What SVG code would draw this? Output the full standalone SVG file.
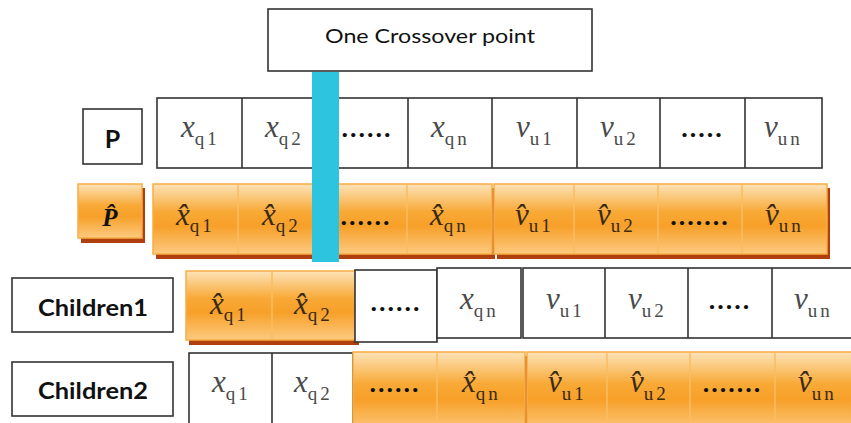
<svg xmlns="http://www.w3.org/2000/svg" width="851" height="423" viewBox="0 0 851 423">
<defs>
<linearGradient id="og" x1="0" y1="0" x2="0" y2="1">
<stop offset="0" stop-color="#fde3b8"/>
<stop offset="0.4" stop-color="#f8a936"/>
<stop offset="0.6" stop-color="#f7a029"/>
<stop offset="1" stop-color="#fcca80"/>
</linearGradient>
<style>
.w{fill:#fff;stroke:#333;stroke-width:1.6}
.o{fill:url(#og);stroke:#f9ad45;stroke-width:1.5}
.sh{fill:#b03f0e}
.dv{stroke:#fbbd62;stroke-width:1.5}
.m{font-family:"Liberation Serif",serif;font-style:italic;font-size:31px}
.s{font-size:19px;font-style:normal;letter-spacing:3px}
.d{font-family:"Liberation Serif",serif;font-weight:bold;font-size:26px;letter-spacing:2px;text-anchor:middle;fill:#111}
.gt{fill:#4a4a4a}
.ot{fill:#3a2a12}
.lb{font-family:Lato,"Liberation Sans",sans-serif;font-weight:bold;fill:#111;text-anchor:middle}
</style>
</defs>
<rect width="851" height="423" fill="#fff"/>

<g id="crossover-label">
<rect x="268" y="9" width="324" height="62" class="w"/>
<text x="430" y="43" font-family="Lato,'Liberation Sans',sans-serif" font-size="19.5" fill="#111" text-anchor="middle" textLength="210" lengthAdjust="spacingAndGlyphs">One Crossover point</text>
</g>

<g id="label-P">
<rect x="83" y="109" width="59" height="55" class="w"/>
<text x="112.5" y="148" class="lb" font-size="25">P</text>
</g>

<g id="row-P">
<rect x="157" y="98" width="665" height="70" class="w"/>
<g stroke="#333" stroke-width="1.6">
<line x1="242" y1="98" x2="242" y2="168"/><line x1="325" y1="98" x2="325" y2="168"/>
<line x1="408" y1="98" x2="408" y2="168"/><line x1="492" y1="98" x2="492" y2="168"/>
<line x1="577" y1="98" x2="577" y2="168"/><line x1="660" y1="98" x2="660" y2="168"/>
<line x1="745" y1="98" x2="745" y2="168"/>
</g>
<text class="m gt"><tspan x="181" y="137">x</tspan><tspan class="s" dy="8">q1</tspan></text>
<text class="m gt"><tspan x="265" y="137">x</tspan><tspan class="s" dy="8">q2</tspan></text>
<text x="367" y="137" class="d">......</text>
<text class="m gt"><tspan x="431" y="137">x</tspan><tspan class="s" dy="8">qn</tspan></text>
<text class="m gt"><tspan x="516" y="137">v</tspan><tspan class="s" dy="8">u1</tspan></text>
<text class="m gt"><tspan x="600" y="137">v</tspan><tspan class="s" dy="8">u2</tspan></text>
<text x="702.5" y="137" class="d">.....</text>
<text class="m gt"><tspan x="764" y="137">v</tspan><tspan class="s" dy="8">un</tspan></text>
</g>

<g id="label-Phat">
<rect x="81" y="188" width="64" height="55" class="sh"/>
<rect x="78" y="184" width="64" height="54" class="o"/>
<text x="110" y="226" font-family="'Liberation Serif',serif" font-weight="bold" font-style="italic" font-size="25" fill="#111" text-anchor="middle">P̂</text>
</g>

<g id="row-Phat">
<rect x="156" y="188" width="339" height="71" class="sh"/>
<rect x="153" y="184" width="339" height="70" class="o"/>
<rect x="497" y="188" width="333" height="71" class="sh"/>
<rect x="494" y="184" width="333" height="70" class="o"/>
<g class="dv">
<line x1="238" y1="185" x2="238" y2="253"/><line x1="325" y1="185" x2="325" y2="253"/>
<line x1="407" y1="185" x2="407" y2="253"/><line x1="574" y1="185" x2="574" y2="253"/>
<line x1="658" y1="185" x2="658" y2="253"/><line x1="742" y1="185" x2="742" y2="253"/>
</g>
<text class="m ot"><tspan x="176" y="225">x̂</tspan><tspan class="s" dy="7">q1</tspan></text>
<text class="m ot"><tspan x="262" y="225">x̂</tspan><tspan class="s" dy="7">q2</tspan></text>
<text x="366" y="225" class="d">......</text>
<text class="m ot"><tspan x="430" y="225">x̂</tspan><tspan class="s" dy="7">qn</tspan></text>
<text class="m ot"><tspan x="515" y="225">v̂</tspan><tspan class="s" dy="7">u1</tspan></text>
<text class="m ot"><tspan x="597" y="225">v̂</tspan><tspan class="s" dy="7">u2</tspan></text>
<text x="700" y="225" class="d">.......</text>
<text class="m ot"><tspan x="765" y="225">v̂</tspan><tspan class="s" dy="7">un</tspan></text>
</g>

<g id="crossover-line">
<rect x="312" y="72" width="27" height="190" fill="#2cc4df"/>
</g>

<g id="label-Children1">
<rect x="12" y="278" width="161" height="54" class="w"/>
<text x="93" y="316" class="lb" font-size="23" textLength="110" lengthAdjust="spacingAndGlyphs">Children1</text>
</g>

<g id="row-Children1">
<rect x="189" y="275" width="170" height="70" class="sh"/>
<rect x="186" y="271" width="169" height="69" class="o"/>
<line x1="272" y1="272" x2="272" y2="339" class="dv"/>
<text class="m ot"><tspan x="210" y="314">x̂</tspan><tspan class="s" dy="7">q1</tspan></text>
<text class="m ot"><tspan x="294" y="314">x̂</tspan><tspan class="s" dy="7">q2</tspan></text>
<rect x="355" y="270" width="82" height="72" class="w"/>
<text x="396" y="311" class="d">......</text>
<rect x="437" y="268" width="84" height="70" class="w"/>
<rect x="523" y="268" width="334" height="70" class="w"/>
<g stroke="#333" stroke-width="1.6">
<line x1="605" y1="268" x2="605" y2="338"/><line x1="688" y1="268" x2="688" y2="338"/>
<line x1="772" y1="268" x2="772" y2="338"/>
</g>
<text class="m gt"><tspan x="460" y="309">x</tspan><tspan class="s" dy="8">qn</tspan></text>
<text class="m gt"><tspan x="546" y="309">v</tspan><tspan class="s" dy="8">u1</tspan></text>
<text class="m gt"><tspan x="628" y="309">v</tspan><tspan class="s" dy="8">u2</tspan></text>
<text x="730" y="309" class="d">.....</text>
<text class="m gt"><tspan x="794" y="309">v</tspan><tspan class="s" dy="8">un</tspan></text>
</g>

<g id="label-Children2">
<rect x="12" y="362" width="161" height="54" class="w"/>
<text x="93" y="399" class="lb" font-size="23" textLength="110" lengthAdjust="spacingAndGlyphs">Children2</text>
</g>

<g id="row-Children2">
<rect x="189" y="353" width="164" height="80" class="w"/>
<line x1="272" y1="353" x2="272" y2="433" stroke="#333" stroke-width="1.6"/>
<text class="m gt"><tspan x="212" y="392">x</tspan><tspan class="s" dy="8">q1</tspan></text>
<text class="m gt"><tspan x="294" y="392">x</tspan><tspan class="s" dy="8">q2</tspan></text>
<rect x="356" y="356" width="172" height="80" class="sh"/>
<rect x="353" y="352" width="172" height="80" class="o"/>
<rect x="527" y="352" width="330" height="80" class="o"/>
<g class="dv">
<line x1="437" y1="353" x2="437" y2="432"/><line x1="607" y1="353" x2="607" y2="432"/>
<line x1="690" y1="353" x2="690" y2="432"/><line x1="775" y1="353" x2="775" y2="432"/>
</g>
<text x="395" y="392" class="d">......</text>
<text class="m ot"><tspan x="462" y="392">x̂</tspan><tspan class="s" dy="8">qn</tspan></text>
<text class="m ot"><tspan x="548" y="392">v̂</tspan><tspan class="s" dy="8">u1</tspan></text>
<text class="m ot"><tspan x="630" y="392">v̂</tspan><tspan class="s" dy="8">u2</tspan></text>
<text x="732.5" y="392" class="d">.......</text>
<text class="m ot"><tspan x="798" y="392">v̂</tspan><tspan class="s" dy="8">un</tspan></text>
</g>
</svg>
